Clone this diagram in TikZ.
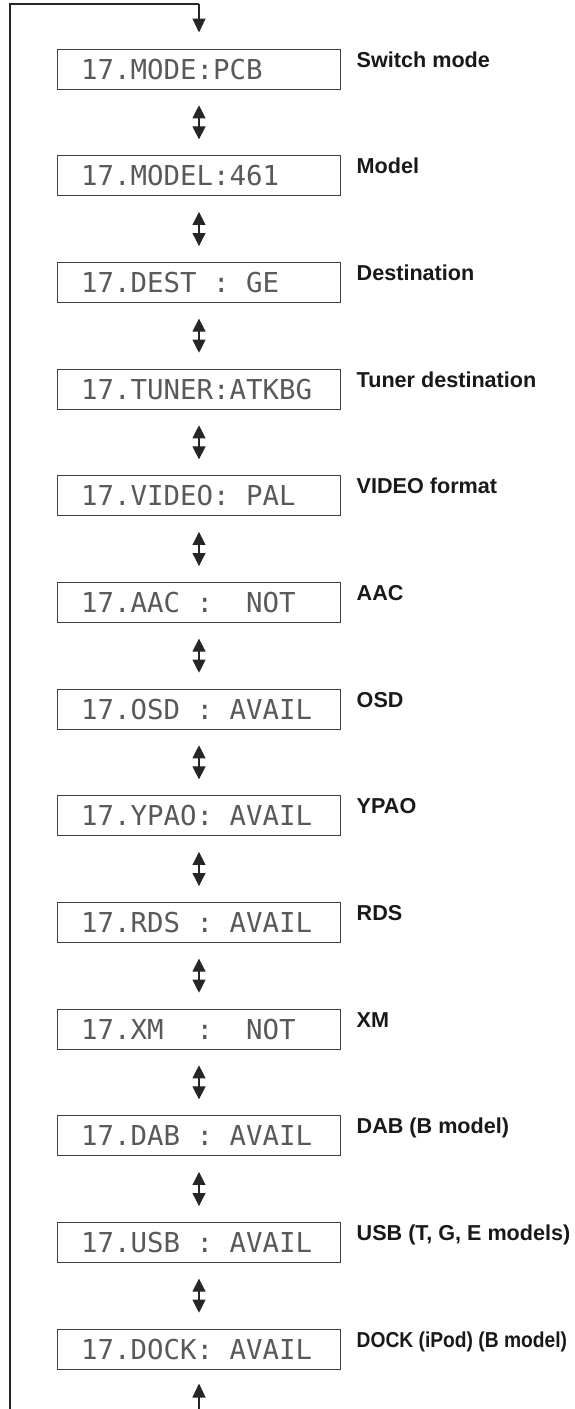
\documentclass[tikz,border=0pt]{standalone}
\usepackage{fontspec}
\setmainfont{Liberation Sans}
\newfontfamily\lcdfont{DejaVu Sans Mono}
\usetikzlibrary{arrows.meta}
\tikzset{
  lcdbox/.style={draw=black!75, line width=1pt, minimum width=283pt, minimum height=40pt, inner sep=0pt},
  lcdtext/.style={anchor=base west, inner sep=0pt, text=black!65, font=\lcdfont\fontsize{27.4}{30}\selectfont},
  lbl/.style={anchor=base west, inner sep=0pt, text=black!90, font=\bfseries\fontsize{21.6}{24}\selectfont},
  wire/.style={draw=black!85, line width=1.1pt},
  arr/.style={wire, -{Triangle[length=14pt,width=13pt]}},
  dbl/.style={wire, {Triangle[length=13pt,width=13pt]}-{Triangle[length=13pt,width=13pt]}, shorten <=15.8pt, shorten >=15.8pt}
}
\begin{document}
\begin{tikzpicture}[x=1pt,y=-1pt]
\useasboundingbox (0,0) rectangle (574,1409);
% boxes
\node[lcdbox] (b1) at (199,69) {};
\node[lcdbox] (b2) at (199,175.67) {};
\node[lcdbox] (b3) at (199,282.33) {};
\node[lcdbox] (b4) at (199,389) {};
\node[lcdbox] (b5) at (199,495.67) {};
\node[lcdbox] (b6) at (199,602.33) {};
\node[lcdbox] (b7) at (199,709) {};
\node[lcdbox] (b8) at (199,815.67) {};
\node[lcdbox] (b9) at (199,922.33) {};
\node[lcdbox] (b10) at (199,1029) {};
\node[lcdbox] (b11) at (199,1135.67) {};
\node[lcdbox] (b12) at (199,1242.33) {};
\node[lcdbox] (b13) at (199,1349) {};
% display texts
\node[lcdtext] (t1) at ([xshift=24pt,yshift=-10pt]b1.west) {17.MODE:PCB};
\node[lcdtext] (t2) at ([xshift=24pt,yshift=-10pt]b2.west) {17.MODEL:461};
\node[lcdtext] (t3) at ([xshift=24pt,yshift=-10pt]b3.west) {17.DEST~:~GE};
\node[lcdtext] (t4) at ([xshift=24pt,yshift=-10pt]b4.west) {17.TUNER:ATKBG};
\node[lcdtext] (t5) at ([xshift=24pt,yshift=-10pt]b5.west) {17.VIDEO:~PAL};
\node[lcdtext] (t6) at ([xshift=24pt,yshift=-10pt]b6.west) {17.AAC~:~~NOT};
\node[lcdtext] (t7) at ([xshift=24pt,yshift=-10pt]b7.west) {17.OSD~:~AVAIL};
\node[lcdtext] (t8) at ([xshift=24pt,yshift=-10pt]b8.west) {17.YPAO:~AVAIL};
\node[lcdtext] (t9) at ([xshift=24pt,yshift=-10pt]b9.west) {17.RDS~:~AVAIL};
\node[lcdtext] (t10) at ([xshift=24pt,yshift=-10pt]b10.west) {17.XM~~:~~NOT};
\node[lcdtext] (t11) at ([xshift=24pt,yshift=-10pt]b11.west) {17.DAB~:~AVAIL};
\node[lcdtext] (t12) at ([xshift=24pt,yshift=-10pt]b12.west) {17.USB~:~AVAIL};
\node[lcdtext] (t13) at ([xshift=24pt,yshift=-10pt]b13.west) {17.DOCK:~AVAIL};
% labels
\node[lbl] (l1) at ([xshift=15.5pt,yshift=2pt]b1.east) {Switch mode};
\node[lbl] (l2) at ([xshift=15.5pt,yshift=2pt]b2.east) {Model};
\node[lbl] (l3) at ([xshift=15.5pt,yshift=2pt]b3.east) {Destination};
\node[lbl] (l4) at ([xshift=15.5pt,yshift=2pt]b4.east) {Tuner destination};
\node[lbl] (l5) at ([xshift=15.5pt,yshift=2pt]b5.east) {VIDEO format};
\node[lbl] (l6) at ([xshift=15.5pt,yshift=2pt]b6.east) {AAC};
\node[lbl] (l7) at ([xshift=15.5pt,yshift=2pt]b7.east) {OSD};
\node[lbl] (l8) at ([xshift=15.5pt,yshift=2pt]b8.east) {YPAO};
\node[lbl] (l9) at ([xshift=15.5pt,yshift=2pt]b9.east) {RDS};
\node[lbl] (l10) at ([xshift=15.5pt,yshift=2pt]b10.east) {XM};
\node[lbl] (l11) at ([xshift=15.5pt,yshift=2pt]b11.east) {DAB (B model)};
\node[lbl] (l12) at ([xshift=15.5pt,yshift=2pt]b12.east) {USB (T, G, E models)};
\node[lbl] (l13) at ([xshift=15.5pt,yshift=2pt]b13.east) {\scalebox{0.89}[1]{DOCK (iPod) (B model)}};
% loop line
\coordinate (topR) at (199,4);
\coordinate (topL) at (10,4);
\coordinate (botL) at (10,1409);
\coordinate (botR) at (199,1409);
\draw[wire] (botL) -- (topL) -- (topR);
\draw[arr, shorten >=16pt] (topR) -- (b1.north);
\draw[arr, shorten >=14pt] (botR) -- (b13.south);
% double arrows
\draw[dbl] (b1.south) -- (b2.north);
\draw[dbl] (b2.south) -- (b3.north);
\draw[dbl] (b3.south) -- (b4.north);
\draw[dbl] (b4.south) -- (b5.north);
\draw[dbl] (b5.south) -- (b6.north);
\draw[dbl] (b6.south) -- (b7.north);
\draw[dbl] (b7.south) -- (b8.north);
\draw[dbl] (b8.south) -- (b9.north);
\draw[dbl] (b9.south) -- (b10.north);
\draw[dbl] (b10.south) -- (b11.north);
\draw[dbl] (b11.south) -- (b12.north);
\draw[dbl] (b12.south) -- (b13.north);
\end{tikzpicture}
\end{document}
